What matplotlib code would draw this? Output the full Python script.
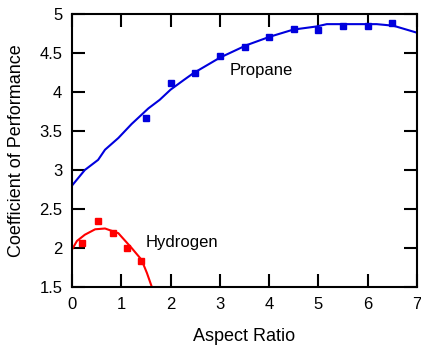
import matplotlib
matplotlib.use("Agg")
import matplotlib.pyplot as plt

plt.rcParams['font.family'] = ['Liberation Sans', 'DejaVu Sans']

# measured points
propane_x = [1.5, 2.0, 2.5, 3.0, 3.5, 4.0, 4.5, 5.0, 5.5, 6.0, 6.5]
propane_y = [3.67, 4.12, 4.24, 4.46, 4.58, 4.71, 4.81, 4.80, 4.85, 4.85, 4.88]
hydrogen_x = [0.2, 0.52, 0.84, 1.11, 1.41]
hydrogen_y = [2.07, 2.34, 2.19, 2.00, 1.83]

# fitted curves
propane_fit_x = [0, 0.26, 0.53, 0.67, 0.94, 1.21, 1.55, 1.78, 2.0, 2.26, 2.46, 3.0, 3.54, 4.02, 4.49, 4.96, 5.17, 6.18, 6.52, 7.0]
propane_fit_y = [2.8, 3.0, 3.13, 3.26, 3.41, 3.59, 3.79, 3.9, 4.03, 4.15, 4.24, 4.44, 4.6, 4.71, 4.8, 4.84, 4.87, 4.87, 4.85, 4.76]
hydrogen_fit_x = [0, 0.1, 0.26, 0.47, 0.67, 0.94, 1.21, 1.41, 1.52, 1.62]
hydrogen_fit_y = [1.98, 2.09, 2.17, 2.24, 2.25, 2.19, 2.0, 1.85, 1.68, 1.5]

blue = "#0000DD"
red = "#FF0000"

fig = plt.figure(figsize=(4.21, 3.51), dpi=100)
ax = fig.add_axes([72/421, 1 - 287/351, 345/421, 273/351])

ax.plot(propane_fit_x, propane_fit_y, "-", color=blue, lw=1.5)
ax.plot(propane_x, propane_y, "s", color=blue, ms=5)
ax.plot(hydrogen_fit_x, hydrogen_fit_y, "-", color=red, lw=1.5)
ax.plot(hydrogen_x, hydrogen_y, "s", color=red, ms=5)

ax.text(3.2, 4.27, "Propane", fontsize=12, va="center")
ax.text(1.5, 2.07, "Hydrogen", fontsize=12, va="center")

ax.set_xlim(0, 7)
ax.set_ylim(1.5, 5)
ax.set_xticks(range(0, 8))
ax.set_yticks([1.5, 2, 2.5, 3, 3.5, 4, 4.5, 5])
ax.set_yticklabels(["1.5", "2", "2.5", "3", "3.5", "4", "4.5", "5"])
ax.tick_params(direction="in", length=9.5, width=1.5, top=True, right=True,
               labelsize=12, pad=7)
for s in ax.spines.values():
    s.set_linewidth(1.5)

ax.set_xlabel("Aspect Ratio", fontsize=13, labelpad=12)
ax.set_ylabel("Coefficient of Performance", fontsize=13, labelpad=10)

fig.savefig("out.png", dpi=100)
